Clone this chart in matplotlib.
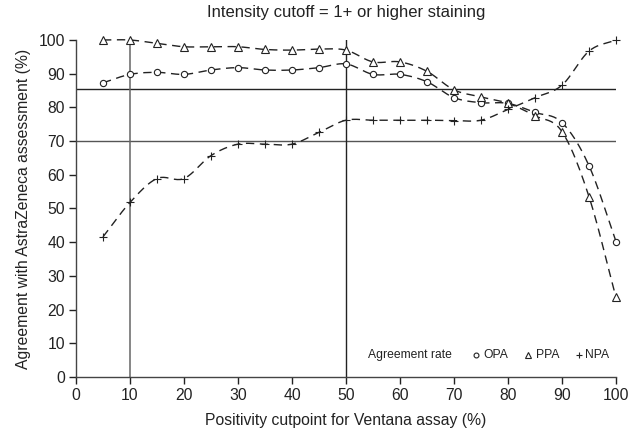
import numpy as np
import matplotlib
matplotlib.use("Agg")
import matplotlib.pyplot as plt
from matplotlib.lines import Line2D

plt.rcParams['font.family'] = ['Liberation Sans', 'DejaVu Sans']

cutpoints = [5, 10, 15, 20, 25, 30, 35, 40, 45, 50, 55, 60, 65, 70, 75, 80, 85, 90, 95, 100]
opa = [87.3, 89.8, 90.4, 89.8, 91.1, 91.8, 91.1, 91.1, 91.8, 92.9, 89.8, 89.8, 87.6, 82.9, 81.4, 81.2, 78.5, 75.5, 62.7, 40.2]
ppa = [100, 100, 99.0, 98.0, 98.0, 98.0, 97.2, 97.0, 97.3, 97.0, 93.5, 93.5, 90.7, 85.2, 83.1, 81.2, 77.5, 72.8, 53.5, 23.6]
npa = [41.6, 51.8, 58.9, 58.9, 65.7, 69.1, 69.1, 69.1, 72.6, 76.2, 76.2, 76.2, 76.2, 76.1, 76.2, 79.4, 82.9, 86.6, 96.7, 100]
ref_h = [85.6, 70]
ref_v = [10, 50]
xticks = list(range(0, 101, 10))
yticks = list(range(0, 101, 10))


def catmull_rom(x, y, n=20):
    x = np.asarray(x, float); y = np.asarray(y, float)
    px = np.concatenate([[2 * x[0] - x[1]], x, [2 * x[-1] - x[-2]]])
    py = np.concatenate([[2 * y[0] - y[1]], y, [2 * y[-1] - y[-2]]])
    xs, ys = [], []
    t = np.linspace(0, 1, n, endpoint=False)
    for i in range(1, len(px) - 2):
        p0, p1, p2, p3 = (np.array([px[j], py[j]]) for j in range(i - 1, i + 3))
        tt = t[:, None]
        pts = 0.5 * ((2 * p1) + (-p0 + p2) * tt + (2 * p0 - 5 * p1 + 4 * p2 - p3) * tt ** 2
                     + (-p0 + 3 * p1 - 3 * p2 + p3) * tt ** 3)
        xs.extend(pts[:, 0]); ys.extend(pts[:, 1])
    xs.append(x[-1]); ys.append(y[-1])
    return np.array(xs), np.array(ys)


fig = plt.figure(figsize=(6.3, 4.36), dpi=100)
ax = fig.add_axes([76 / 630, 1 - 377 / 436, 540 / 630, 337 / 436])

ax.axhline(ref_h[0], color='#222222', lw=1.0)
ax.axhline(ref_h[1], color='#555555', lw=1.0)
ax.axvline(ref_v[0], color='#666666', lw=1.1)
ax.axvline(ref_v[1], color='#222222', lw=1.0)

col = '#222222'
for data, mk, ms in [(opa, 'o', 4.5), (ppa, '^', 5.5), (npa, '+', 6)]:
    sx, sy = catmull_rom(cutpoints, data)
    ax.plot(sx, sy, color=col, lw=1.0, dashes=(6, 4), clip_on=False)
    ax.plot(cutpoints, data, linestyle='none', marker=mk, ms=ms, mfc='white',
            mec=col, mew=0.8, clip_on=False)

ax.set_xlim(0, 100)
ax.set_ylim(0, 100)
ax.set_xticks(xticks)
ax.set_yticks(yticks)
ax.tick_params(direction='out', length=5, width=1, labelsize=11.3, colors='#222222', pad=3)
for s in ['top', 'right']:
    ax.spines[s].set_visible(False)
for s in ['left', 'bottom']:
    ax.spines[s].set_color('#444444')
    ax.spines[s].set_linewidth(1.0)

ax.set_xlabel('Positivity cutpoint for Ventana assay (%)', fontsize=11.3, color='#222222', labelpad=7)
ax.set_ylabel('Agreement with AstraZeneca assessment (%)', fontsize=11.3, color='#222222', labelpad=5)
fig.text(346 / 630, 1 - 13 / 436, 'Intensity cutoff = 1+ or higher staining', ha='center', va='center',
         fontsize=12, color='#222222')

# legend row
def px2ax(px, py):
    return ((px - 76) / 540, (377 - py) / 337)

ly = 355
x0, y0 = px2ax(368, ly)
ax.text(x0, y0, 'Agreement rate', transform=ax.transAxes, fontsize=8.7, va='center', ha='left', color='#222222')
for mk, ms, mx, tx, lab in [('o', 3.5, 476, 483, 'OPA'), ('^', 4.0, 528, 536, 'PPA'), ('+', 4.5, 579, 585, 'NPA')]:
    a, b = px2ax(mx, ly)
    ax.add_line(Line2D([a], [b], marker=mk, ms=ms, mfc='white', mec=col, mew=0.8,
                       transform=ax.transAxes, clip_on=False))
    a, b = px2ax(tx, ly)
    ax.text(a, b, lab, transform=ax.transAxes, fontsize=8.7, va='center', ha='left', color='#222222')

fig.savefig('out.png', dpi=100)
